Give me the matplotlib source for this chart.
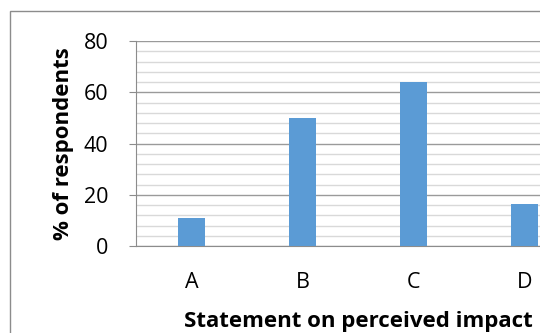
import matplotlib
matplotlib.use("Agg")
import matplotlib.pyplot as plt
from matplotlib.ticker import MultipleLocator
from matplotlib.patches import Rectangle

categories = ["A", "B", "C", "D"]
values = [11, 50, 64, 16.5]
y_ticks = [0, 20, 40, 60, 80]

plt.rcParams['font.family'] = ['Open Sans', 'DejaVu Sans']

W, H = 540, 333
fig = plt.figure(figsize=(W / 100, H / 100), dpi=100)

# outer chart border (clipped at right/bottom)
fig.patches.append(Rectangle((10 / W, -0.1), 1.2, (H - 11) / H + 0.1, transform=fig.transFigure,
                             fill=False, edgecolor='#8c8c8c', linewidth=1.0))

ax = fig.add_axes([136 / W, 87 / H, 444 / W, 205 / H])
x = list(range(len(categories)))
ax.bar(x, values, width=0.245, color='#5b9bd5', zorder=3)
ax.set_xlim(-0.5, 3.5)
ax.set_ylim(0, 80)
ax.set_yticks(y_ticks)
ax.yaxis.set_minor_locator(MultipleLocator(4))
ax.grid(which='major', axis='y', color='#9a9a9a', linewidth=1.0, zorder=0)
ax.grid(which='minor', axis='y', color='#d9d9d9', linewidth=1.0, zorder=0)
ax.set_xticks(x)
ax.set_xticklabels(categories)
ax.tick_params(axis='x', length=0, pad=19, labelsize=15.5)
ax.tick_params(axis='y', which='major', length=5, color='#8c8c8c', pad=15, labelsize=15.5)
ax.tick_params(axis='y', which='minor', length=0)
for s in ['top', 'right']:
    ax.spines[s].set_visible(False)
for s in ['left', 'bottom']:
    ax.spines[s].set_color('#8c8c8c')
ax.set_ylabel('% of respondents', fontsize=16, fontweight='bold', labelpad=7)
ax.set_xlabel('Statement on perceived impact', fontsize=16, fontweight='bold', labelpad=13)

fig.savefig('out.png', dpi=100)
